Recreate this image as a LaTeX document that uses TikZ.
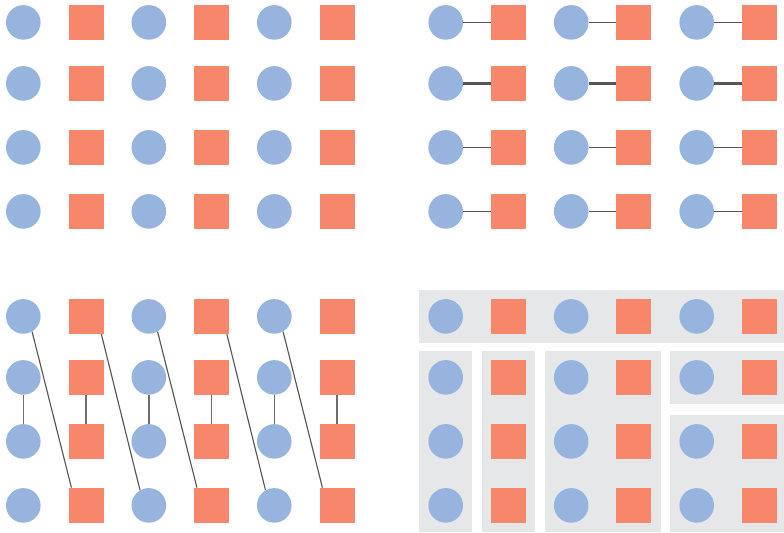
\documentclass[tikz,border=0pt]{standalone}
\usepackage{tikz}
\usetikzlibrary{backgrounds, fit}
\definecolor{dotblue}{HTML}{96B4DE}
\definecolor{boxsalmon}{HTML}{F7866B}
\definecolor{groupgray}{HTML}{E6E7E9}
\definecolor{linkgray}{HTML}{555555}

\begin{document}
\begin{tikzpicture}[
    dot/.style={
        circle, fill=dotblue, inner sep=0pt, minimum size=0.865cm
    },
    box/.style={
        rectangle, fill=boxsalmon, inner sep=0pt, minimum size=0.875cm
    },
    link/.style={
        draw=linkgray, line width=0.8pt
    },
    boldlink/.style={
        draw=linkgray, line width=1.6pt
    },
    vlink/.style={
        draw=linkgray!85, line width=1pt
    },
    group/.style={
        fill=groupgray, inner sep=0.225cm
    },
]
\useasboundingbox (0,0) rectangle (19.6,-13.3);

% === Four panels of the same 3x4 grid of pairs ===
\foreach \p/\ox/\oy in {A/0/0, B/10.56/0, C/0/-7.35, D/10.56/-7.35} {
    \foreach \c in {1,2,3} {
        \foreach \r/\y in {1/-0.56, 2/-2.085, 3/-3.685, 4/-5.285} {
            \node[dot] (\p-c\c-\r) at ({\ox+0.5825+(\c-1)*3.1375}, {\oy+\y}) {};
            \node[box] (\p-s\c-\r) at ({\ox+2.15+(\c-1)*3.1375}, {\oy+\y}) {};
        }
    }
}

% === Panel B: each circle tied to its square ===
\foreach \c in {1,2,3} {
    \foreach \r in {1,3,4} {
        \draw[link] (B-c\c-\r) -- (B-s\c-\r);
    }
    \draw[boldlink] (B-c\c-2) -- (B-s\c-2);
}

% === Panel C: vertical ties and long diagonals ===
\foreach \c in {1,2,3} {
    \draw[vlink] (C-c\c-2) -- (C-c\c-3);
    \draw[vlink] (C-s\c-2) -- (C-s\c-3);
    \draw[link] (C-c\c-1.300) -- ([xshift=0.08cm]C-s\c-4.north west);
}
\foreach \c/\n in {1/2, 2/3} {
    \draw[link] ([xshift=-0.06cm]C-s\c-1.south east) -- (C-c\n-4.120);
}

% === Panel D: gray groups behind the grid ===
\begin{scope}[on background layer]
    \node[group, fit=(D-c1-1)(D-s3-1)] (D-g1) {};
    \node[group, fit=(D-c1-2)(D-c1-4)] (D-g2) {};
    \node[group, fit=(D-s1-2)(D-s1-4)] (D-g3) {};
    \node[group, fit=(D-c2-2)(D-s2-4)] (D-g4) {};
    \node[group, fit=(D-c3-2)(D-s3-2)] (D-g5) {};
    \node[group, fit=(D-c3-3)(D-s3-4)] (D-g6) {};
\end{scope}

\end{tikzpicture}
\end{document}
